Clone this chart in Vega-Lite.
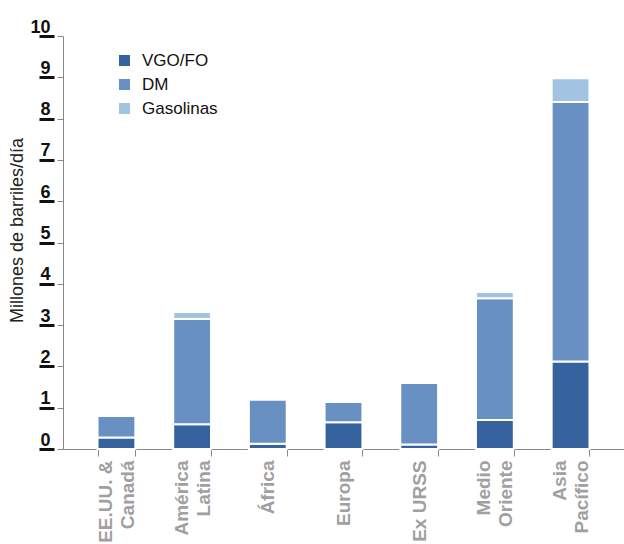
{
  "$schema": "https://vega.github.io/schema/vega-lite/v6.json",
  "autosize": {"type": "none"},
  "padding": {"left": 63, "top": 36, "right": 0, "bottom": 95},
  "width": 561,
  "height": 413,
  "config": {"view": {"stroke": null}, "font": "Liberation Sans"},
  "data": {"values": [
    {"region": "EE.UU. & Canadá", "tipo": "VGO/FO", "valor": 0.28},
    {"region": "EE.UU. & Canadá", "tipo": "DM", "valor": 0.52},
    {"region": "América Latina", "tipo": "VGO/FO", "valor": 0.60},
    {"region": "América Latina", "tipo": "DM", "valor": 2.55},
    {"region": "América Latina", "tipo": "Gasolinas", "valor": 0.17},
    {"region": "África", "tipo": "VGO/FO", "valor": 0.13},
    {"region": "África", "tipo": "DM", "valor": 1.06},
    {"region": "Europa", "tipo": "VGO/FO", "valor": 0.65},
    {"region": "Europa", "tipo": "DM", "valor": 0.49},
    {"region": "Ex URSS", "tipo": "VGO/FO", "valor": 0.11},
    {"region": "Ex URSS", "tipo": "DM", "valor": 1.49},
    {"region": "Medio Oriente", "tipo": "VGO/FO", "valor": 0.70},
    {"region": "Medio Oriente", "tipo": "DM", "valor": 2.95},
    {"region": "Medio Oriente", "tipo": "Gasolinas", "valor": 0.15},
    {"region": "Asia Pacífico", "tipo": "VGO/FO", "valor": 2.12},
    {"region": "Asia Pacífico", "tipo": "DM", "valor": 6.28},
    {"region": "Asia Pacífico", "tipo": "Gasolinas", "valor": 0.58}
  ]},
  "transform": [
    {"calculate": "indexof(['VGO/FO', 'DM', 'Gasolinas'], datum.tipo)", "as": "orden_apilado"}
  ],
  "encoding": {
    "x": {
      "field": "region", "type": "nominal", "sort": null,
      "scale": {"paddingInner": 0.5, "paddingOuter": 0.456},
      "axis": {
        "title": null,
        "tickBand": "extent",
        "labelAngle": 270,
        "labelFont": "Liberation Sans",
        "labelFontWeight": "bold",
        "labelFontSize": 19,
        "labelLineHeight": 22,
        "labelColor": "#a0a0a0",
        "labelPadding": 4,
        "labelOffset": {"condition": {"test": "indexof(['EE.UU. & Canadá', 'América Latina', 'Medio Oriente', 'Asia Pacífico'], datum.value) >= 0", "value": -11}, "value": 0},
        "tickSize": 7,
        "tickColor": "#888888",
        "domainColor": "#888888",
        "labelExpr": "datum.value == 'EE.UU. & Canadá' ? ['EE.UU. &', 'Canadá'] : datum.value == 'América Latina' ? ['América', 'Latina'] : datum.value == 'Medio Oriente' ? ['Medio', 'Oriente'] : datum.value == 'Asia Pacífico' ? ['Asia', 'Pacífico'] : datum.value"
      }
    }
  },
  "layer": [
    {
      "mark": {"type": "bar", "stroke": "white", "strokeWidth": 2},
      "encoding": {
        "y": {
          "field": "valor", "type": "quantitative", "stack": "zero",
          "scale": {"domain": [0, 10], "nice": false},
          "axis": {
            "title": "Millones de barriles/día",
            "titleFont": "Liberation Sans",
            "titleFontSize": 18,
            "titleFontWeight": "normal",
            "titleColor": "#222222",
            "titleX": -46,
            "titleY": 194,
            "titleAngle": -90,
            "titleAlign": "center",
            "titleBaseline": "middle",
            "values": [0, 1, 2, 3, 4, 5, 6, 7, 8, 9, 10],
            "labels": false,
            "grid": false,
            "tickSize": 6,
            "tickColor": "#888888",
            "domainColor": "#888888"
          }
        },
        "order": {"field": "orden_apilado", "type": "quantitative", "sort": "ascending"},
        "color": {
          "field": "tipo", "type": "nominal",
          "sort": ["VGO/FO", "DM", "Gasolinas"],
          "scale": {"domain": ["VGO/FO", "DM", "Gasolinas"], "range": ["#36629e", "#6890c3", "#a2c4e2"]},
          "legend": {
            "title": null,
            "orient": "none",
            "legendX": 53,
            "legendY": 16,
            "symbolType": "square",
            "symbolSize": 121,
            "symbolStrokeWidth": 0,
            "labelFont": "Liberation Sans",
            "labelFontSize": 17,
            "labelColor": "#111111",
            "labelOffset": 9,
            "rowPadding": 6,
            "padding": 0
          }
        }
      }
    },
    {
      "mark": {"type": "bar", "opacity": 0},
      "encoding": {
        "y": {
          "field": "valor", "type": "quantitative", "stack": "zero",
          "axis": {
            "orient": "left",
            "offset": 9,
            "title": null,
            "domain": false,
            "grid": false,
            "values": [0, 1, 2, 3, 4, 5, 6, 7, 8, 9, 10],
            "tickSize": 15,
            "tickWidth": 3,
            "tickColor": "#111111",
            "labelAlign": "right",
            "labelBaseline": "alphabetic",
            "labelPadding": -11,
            "labelOffset": -4,
            "labelFont": "Liberation Sans",
            "labelFontWeight": "bold",
            "labelFontSize": 18,
            "labelColor": "#111111"
          }
        }
      }
    }
  ],
  "resolve": {"axis": {"y": "independent"}}
}
